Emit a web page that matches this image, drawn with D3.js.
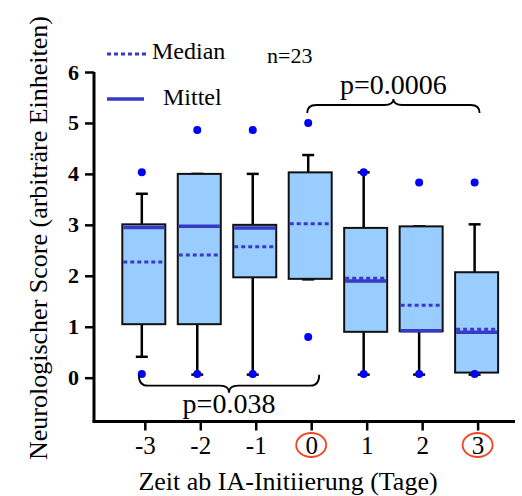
<!DOCTYPE html>
<html>
<head>
<meta charset="utf-8">
<script src="https://cdn.jsdelivr.net/npm/d3@7"></script>
<style>
  body { margin: 0; background: #fff; }
  text { font-family: "Liberation Serif", "Times New Roman", serif; }
</style>
</head>
<body>
<svg id="chart" width="522" height="496"></svg>
<script>
// data
var days = [-3, -2, -1, 0, 1, 2, 3];
var q1 = [1.05, 1.05, 1.97, 1.94, 0.90, 0.91, 0.10];
var q3 = [3.01, 4.00, 3.00, 4.03, 2.94, 2.97, 2.07];
var medians = [2.27, 2.41, 2.57, 3.02, 1.95, 1.42, 0.95];
var means = [2.95, 2.97, 2.94, null, 1.90, 0.92, 0.89];
var whiskerLow = [0.41, 0.06, 0.06, 1.93, 0.06, 0.06, 0.06];
var whiskerHigh = [3.61, 4.00, 4.00, 4.37, 4.03, 2.97, 3.01];
var outliers = [[4.03, 0.07], [4.86, 0.07], [4.86, 0.07], [5.00, 0.80], [4.03, 0.07], [3.83, 0.07], [3.83, 0.07]];
var yTicks = [0, 1, 2, 3, 4, 5, 6];
var circled = [0, 3];
var comparisons = [{from: -3, to: 0, label: "p=0.038"}, {from: 0, to: 3, label: "p=0.0006"}];

var svg = d3.select("#chart");

var x = d3.scaleLinear().domain([-3.916, 3.674]).range([94, 515]);
var y = d3.scaleLinear().domain([-0.86, 6]).range([421.5, 72]);

var boxColor = "#99ccff";
var lineColor = "#3939c6";
var dotColor = "#0000ff";

// axes
var yAxis = svg.append("g")
    .attr("transform", "translate(94,0)")
    .call(d3.axisLeft(y).tickValues(yTicks).tickFormat(function(d) { return String(d); })
        .tickSize(9).tickSizeOuter(0).tickPadding(6));
yAxis.attr("font-family", "Liberation Serif");
yAxis.select(".domain").attr("stroke-width", 3).attr("d", "M0," + y(6) + "V" + y(-0.86));
yAxis.selectAll(".tick line").attr("stroke-width", 2.5);
yAxis.selectAll(".tick text")
    .style("font-family", "Liberation Serif")
    .style("font-size", "22px").style("font-weight", "700");

var xAxis = svg.append("g")
    .attr("transform", "translate(0," + y(-0.86) + ")")
    .call(d3.axisBottom(x).tickValues(days).tickFormat(function(d) { return String(d); })
        .tickSize(9).tickSizeOuter(0).tickPadding(6));
xAxis.attr("font-family", "Liberation Serif");
xAxis.select(".domain").attr("stroke-width", 3).attr("d", "M92.5,0H515");
xAxis.selectAll(".tick line").attr("stroke-width", 2.5);
xAxis.selectAll(".tick text")
    .style("font-family", "Liberation Serif")
    .style("font-size", "25px");

// red rings round the tick labels
svg.selectAll(".ring")
    .data(circled)
    .enter().append("ellipse")
    .attr("class", "ring")
    .attr("cx", function(d) { return x(d); })
    .attr("cy", 445)
    .attr("rx", 15)
    .attr("ry", 12)
    .attr("fill", "none")
    .attr("stroke", "#f5431f")
    .attr("stroke-width", 1.8);

var boxW = 43;

// boxes
days.forEach(function(d, i) {
    var cx = x(d) - 1;
    var wx = x(d) - 3;

    // whiskers
    [[q3[i], whiskerHigh[i]], [q1[i], whiskerLow[i]]].forEach(function(w) {
        svg.append("line")
            .attr("x1", wx).attr("x2", wx)
            .attr("y1", y(w[0])).attr("y2", y(w[1]))
            .attr("stroke", "#000").attr("stroke-width", 2.5);
        svg.append("line")
            .attr("x1", wx - 6).attr("x2", wx + 6)
            .attr("y1", y(w[1])).attr("y2", y(w[1]))
            .attr("stroke", "#000").attr("stroke-width", 2.5);
    });

    svg.append("rect")
        .attr("x", cx - boxW / 2)
        .attr("y", y(q3[i]))
        .attr("width", boxW)
        .attr("height", y(q1[i]) - y(q3[i]))
        .attr("fill", boxColor)
        .attr("stroke", "#111")
        .attr("stroke-width", 2);

    if (means[i] != null) {
        svg.append("line")
            .attr("x1", cx - boxW / 2 + 1).attr("x2", cx + boxW / 2 - 1)
            .attr("y1", y(means[i])).attr("y2", y(means[i]))
            .attr("stroke", lineColor).attr("stroke-width", 3.5);
    }

    svg.append("line")
        .attr("x1", cx - boxW / 2 + 1).attr("x2", cx + boxW / 2 - 1)
        .attr("y1", y(medians[i])).attr("y2", y(medians[i]))
        .attr("stroke", lineColor).attr("stroke-width", 3)
        .attr("stroke-dasharray", "4,3");

    svg.selectAll(null)
        .data(outliers[i])
        .enter().append("circle")
        .attr("cx", wx)
        .attr("cy", function(v) { return y(v); })
        .attr("r", 4)
        .attr("fill", dotColor);
});

// braces for the comparisons
function brace(x1, x2, yEnd, yLine, yTip) {
    var xm = (x1 + x2) / 2, r = 9;
    return "M" + x1 + "," + yEnd +
        "Q" + x1 + "," + yLine + " " + (x1 + r) + "," + yLine +
        "L" + (xm - r) + "," + yLine +
        "Q" + xm + "," + yLine + " " + xm + "," + yTip +
        "Q" + xm + "," + yLine + " " + (xm + r) + "," + yLine +
        "L" + (x2 - r) + "," + yLine +
        "Q" + x2 + "," + yLine + " " + x2 + "," + yEnd;
}

var low = comparisons[0];
var bx1 = x(low.from) - 6, bx2 = x(low.to) + 8;
svg.append("path")
    .attr("d", brace(bx1, bx2, y(0.06), y(0.06) + 11, y(0.06) + 18))
    .attr("fill", "none").attr("stroke", "#000").attr("stroke-width", 1.8);
svg.append("text")
    .attr("x", (bx1 + bx2) / 2).attr("y", 413)
    .attr("text-anchor", "middle").attr("font-size", 28)
    .text(low.label);

var high = comparisons[1];
var tx1 = x(high.from) - 4, tx2 = x(high.to) + 2;
svg.append("path")
    .attr("d", brace(tx1, tx2, 113, 105, 99))
    .attr("fill", "none").attr("stroke", "#000").attr("stroke-width", 1.8);
svg.append("text")
    .attr("x", (tx1 + tx2) / 2).attr("y", 94)
    .attr("text-anchor", "middle").attr("font-size", 28)
    .text(high.label);

// legend
svg.append("line")
    .attr("x1", 107).attr("x2", 148).attr("y1", 54).attr("y2", 54)
    .attr("stroke", lineColor).attr("stroke-width", 3).attr("stroke-dasharray", "4,3");
svg.append("text").attr("x", 152).attr("y", 59).attr("font-size", 24).text("Median");
svg.append("line")
    .attr("x1", 107).attr("x2", 144).attr("y1", 99).attr("y2", 99)
    .attr("stroke", lineColor).attr("stroke-width", 3.5);
svg.append("text").attr("x", 163).attr("y", 105).attr("font-size", 24).text("Mittel");

svg.append("text").attr("x", 267).attr("y", 63).attr("font-size", 22).text("n=23");

// axis titles
svg.append("text")
    .attr("x", 288).attr("y", 490)
    .attr("text-anchor", "middle").attr("font-size", 26)
    .text("Zeit ab IA-Initiierung (Tage)");
svg.append("text")
    .attr("transform", "translate(47,238) rotate(-90)")
    .attr("text-anchor", "middle").attr("font-size", 26)
    .text("Neurologischer Score (arbiträre Einheiten)");
</script>
</body>
</html>
